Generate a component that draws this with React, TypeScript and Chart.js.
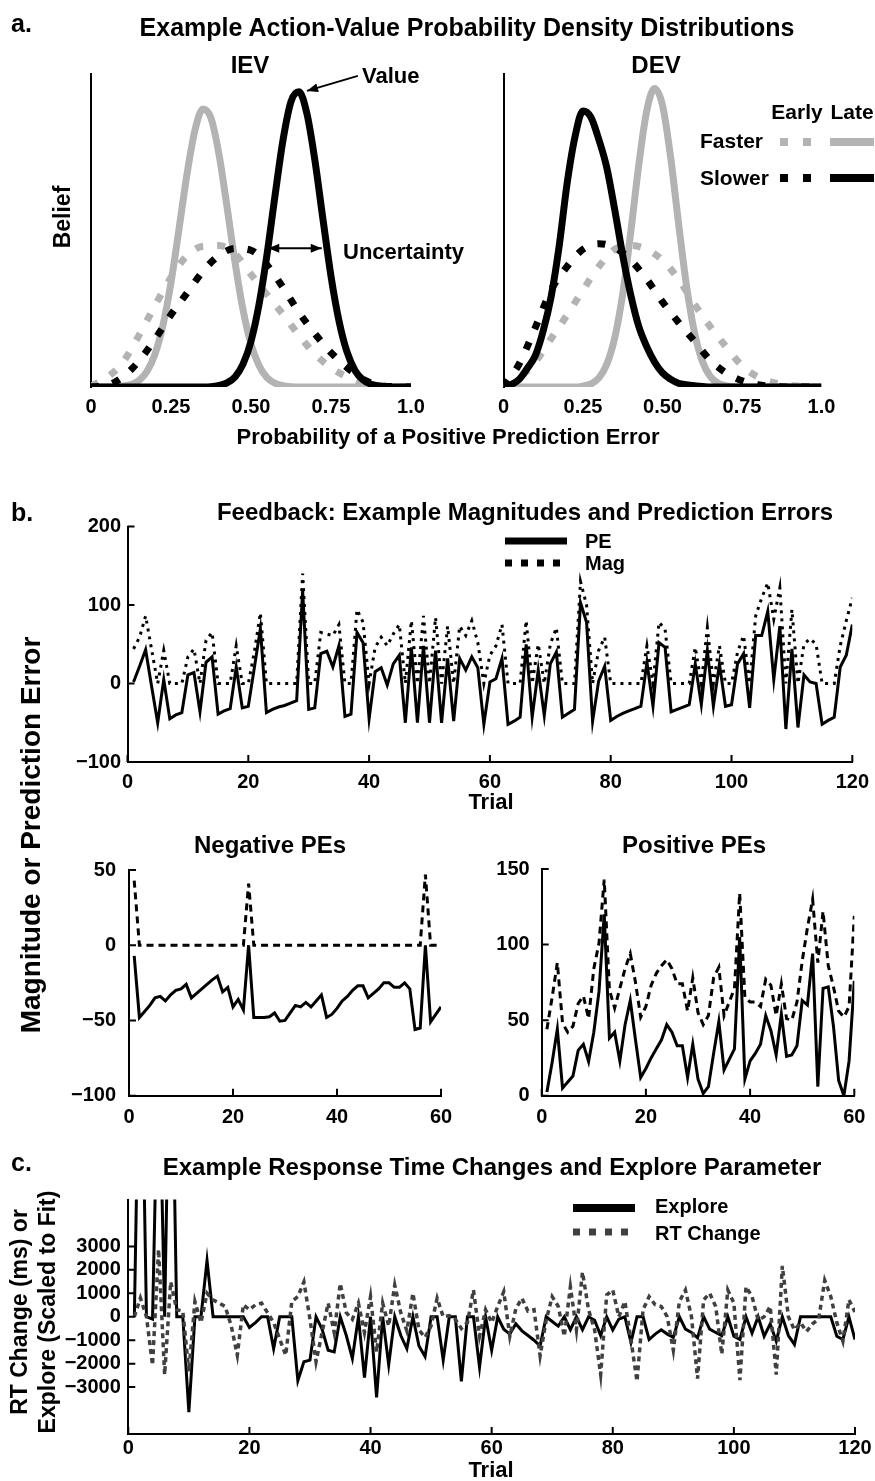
import React, { useEffect, useRef } from "react";
import { Chart, registerables } from "chart.js";
Chart.register(...registerables);

const FONT = "'Liberation Sans', Arial, Helvetica, sans-serif";
const BLACK = "#000000";
const GRAY = "#b3b3b3";
const DGRAY = "#404040";

// ---------- Panel a: belief distributions ----------
const GRID_FINE = Array.from({ length: 41 }, (_, i) => i * 0.025);
const GRID_COARSE = Array.from({ length: 21 }, (_, i) => i * 0.05);

const IEV_FASTER_LATE = [0, 0, 0, 0, 0.003, 0.008, 0.021, 0.05, 0.105, 0.198, 0.334, 0.504, 0.68, 0.821, 0.888, 0.859, 0.743, 0.576, 0.399, 0.247, 0.137, 0.069, 0.03, 0.012, 0.004, 0.001, 0, 0, 0, 0, 0, 0, 0, 0, 0, 0, 0, 0, 0, 0, 0];
const IEV_SLOWER_LATE = [0, 0, 0, 0, 0, 0, 0, 0, 0, 0, 0, 0, 0, 0, 0, 0.001, 0.005, 0.013, 0.032, 0.073, 0.146, 0.263, 0.423, 0.611, 0.789, 0.912, 0.943, 0.872, 0.722, 0.535, 0.354, 0.211, 0.112, 0.053, 0.023, 0.009, 0.003, 0.001, 0, 0, 0];
const IEV_FASTER_EARLY = [0.003, 0.03, 0.08, 0.165, 0.26, 0.35, 0.42, 0.45, 0.452, 0.425, 0.36, 0.295, 0.232, 0.165, 0.105, 0.062, 0.032, 0.013, 0.004, 0.001, 0];
const IEV_SLOWER_EARLY = [0, 0.005, 0.033, 0.083, 0.153, 0.231, 0.3, 0.37, 0.42, 0.443, 0.437, 0.39, 0.318, 0.238, 0.17, 0.11, 0.062, 0.025, 0.005, 0.001, 0];

const DEV_FASTER_LATE = [0, 0, 0, 0, 0, 0, 0, 0, 0, 0, 0.003, 0.01, 0.029, 0.073, 0.158, 0.299, 0.493, 0.706, 0.88, 0.954, 0.9, 0.738, 0.527, 0.327, 0.177, 0.083, 0.034, 0.012, 0.004, 0.001, 0, 0, 0, 0, 0, 0, 0, 0, 0, 0, 0];
const DEV_SLOWER_LATE = [0.003, 0.008, 0.025, 0.06, 0.1, 0.18, 0.29, 0.45, 0.65, 0.8, 0.882, 0.862, 0.79, 0.7, 0.565, 0.42, 0.295, 0.195, 0.13, 0.08, 0.045, 0.025, 0.012, 0.007, 0.004, 0.002, 0, 0, 0, 0, 0, 0, 0, 0, 0, 0, 0, 0, 0, 0, 0];
const DEV_FASTER_EARLY = [0, 0.03, 0.08, 0.155, 0.23, 0.31, 0.385, 0.44, 0.452, 0.44, 0.405, 0.345, 0.265, 0.193, 0.128, 0.068, 0.032, 0.014, 0.005, 0.001, 0];
const DEV_SLOWER_EARLY = [0, 0.075, 0.19, 0.31, 0.385, 0.44, 0.458, 0.445, 0.405, 0.345, 0.272, 0.207, 0.147, 0.086, 0.045, 0.02, 0.007, 0.002, 0, 0, 0];

const A_TICK_LABELS: Record<string, string> = { "0.00": "0", "0.25": "0.25", "0.50": "0.50", "0.75": "0.75", "1.00": "1.0" };

// ---------- Panel b: feedback ----------
const TRIALS_120 = Array.from({ length: 120 }, (_, i) => i + 1);
const TRIALS_60 = Array.from({ length: 60 }, (_, i) => i + 1);

const FEEDBACK_PE = [
  2, 22, 43, -4, -50, 5, -45, -40, -37, 11,
  14, -36, 27, 34, -39, -35, -32, 21, -31, -29,
  20, 70, -37, -33, -30, -28, -25, -22, 118, -33,
  -31, 38, 41, 21, 48, -42, -39, 65, 52, -45,
  15, 20, -2, 25, 36, -50, 46, -50, 48, -50,
  42, -50, 32, -48, 32, 17, 34, 20, -52, 2,
  6, 32, -52, -48, -43, 50, -43, 17, -41, 25,
  40, -43, -38, -33, 103, 78, -48, 3, 22, -47,
  -42, -38, -35, -32, -29, 27, -29, 52, 46, -36,
  -33, -30, -27, 25, -27, 42, -29, 25, -29, -27,
  25, 38, -31, 61, 61, 92, 5, 73, -58, 44,
  -56, 11, 2, 0, -52, -47, -43, 21, 36, 75,
];
const FEEDBACK_MAG = [
  44, 59, 86, 43, 0, 42, 0, 0, 0, 34,
  44, 0, 55, 65, 0, 0, 0, 48, 0, 0,
  40, 90, 0, 0, 0, 0, 0, 0, 140, 0,
  0, 65, 63, 61, 75, 0, 0, 94, 78, 0,
  46, 59, 48, 63, 75, 0, 80, 0, 86, 0,
  84, 0, 73, 0, 73, 61, 80, 52, 0, 36,
  48, 75, 0, 0, 0, 80, 0, 50, 0, 50,
  71, 0, 0, 0, 130, 100, 0, 42, 59, 0,
  0, 0, 0, 0, 0, 48, 0, 78, 69, 0,
  0, 0, 0, 46, 0, 71, 0, 48, 0, 0,
  40, 61, 0, 86, 109, 128, 82, 122, 0, 94,
  0, 50, 57, 50, 0, 0, 0, 48, 80, 109,
];

const NEG_PE = [
  -7, -48, -44, -40, -35, -34, -37, -33, -30, -29,
  -26, -35, -32, -29, -26, -23, -20.5, -31, -28, -41,
  -36, -43, 0, -48, -48, -48, -47.5, -45, -50.5, -50,
  -45, -40, -41, -38, -41, -37, -33, -48, -46, -42,
  -37, -34, -30, -27, -27, -35, -32, -29, -25, -25,
  -28, -28, -25, -29, -56, -55, 0, -51, -46, -41,
];
const NEG_MAG = [
  43, 0, 0, 0, 0, 0, 0, 0, 0, 0,
  0, 0, 0, 0, 0, 0, 0, 0, 0, 0,
  0, 0, 41, 0, 0, 0, 0, 0, 0, 0,
  0, 0, 0, 0, 0, 0, 0, 0, 0, 0,
  0, 0, 0, 0, 0, 0, 0, 0, 0, 0,
  0, 0, 0, 0, 0, 0, 47, 0, 0, 0,
];
const POS_PE = [
  2.5, 22, 44, 5, 9, 13, 30, 34, 22.6, 42,
  69, 120, 38, 42, 23, 47, 63, 37, 12, 18,
  25, 31, 37, 47, 42, 33, 33, 12, 34, 11,
  1.5, 6, 28, 49, 17, 24, 31, 105, 11, 23,
  28, 34, 53, 43, 27, 54, 26, 27, 33, 63,
  60, 94, 6, 71, 72, 46, 10, 0, 23, 76,
];
const POS_MAG = [
  44, 65, 88, 48, 42, 46, 61, 66, 51, 84,
  101, 143, 70, 58, 71, 84, 94, 75, 52, 59,
  73, 81, 86, 90, 84, 74, 74, 56, 78, 55,
  47, 53, 78, 85, 53, 62, 71, 134, 65, 62,
  62, 59, 77, 73, 53, 74, 51, 50, 62, 89,
  111, 130, 88, 122, 86, 72, 56, 52, 59, 119,
];

// ---------- Panel c: RT change and explore ----------
const EXPLORE = [
  0, 15000, 0, -100, 12000, 0, 15000, 0, 0, -4070,
  0, 0, 2400, 0, 0, 0, 0, 0, 0, -460,
  -250, 0, 0, -1360, 0, 0, 0, -2720, -1920, -1850,
  0, -530, -1430, -1500, 0, -800, -1780, 0, -2600, 0,
  -3440, 0, -2050, 0, -800, -1360, 0, -1250, -1700, 0,
  0, -1850, 0, 0, -2750, 0, 0, -2150, 0, -1430,
  0, -530, -740, -300, -600, -800, -1000, -1250, 0, -200,
  -400, 0, -550, 0, -550, 0, -150, -800, 0, -560,
  -100, 0, -1100, 0, 0, -970, -740, -560, -740, -880,
  0, -530, -670, -900, 0, -530, -670, -800, 0, -830,
  -970, 0, -700, 0, -830, -300, -1040, 0, -800, -1180,
  0, 0, 0, 0, 0, 0, -830, -970, 0, -970,
];
const RT_CHANGE = [
  0, 800, 0, -2060, 2875, -2470, 1490, 300, 240, -2330,
  650, -250, 1000, 720, 580, 440, -390, -1640, 510, 300,
  510, 580, 170, -250, -950, -1640, 650, 860, 1490, -110,
  -1920, -670, 580, -670, 1420, 170, -110, 580, -670, 860,
  -1500, 580, -390, 1350, 170, -600, 1000, -560, -880, -390,
  790, 0, 50, -110, -500, -250, 1140, -830, 300, -250,
  440, 1070, -830, 350, 790, 240, 300, -1670, -150, 860,
  440, -830, 1280, -560, 1900, 300, -560, -2470, 930, 1140,
  0, 650, -970, -2750, 300, 860, 510, 440, 0, -1430,
  650, 1140, 0, -2640, 720, 1000, 440, -1600, 1140, 580,
  -2700, 1280, 860, -140, 0, 440, -2470, 2170, 0, -560,
  -250, -630, -300, -100, 1550, 860, -250, -1040, 720, 200,
];

// ---------- helpers ----------
const tickFont = { family: FONT, size: 20, weight: "bold" as const };
const fmtNum = (v: number) => (v < 0 ? "\u2212" + Math.abs(v) : String(v));

function ds(xs: number[], ys: number[], color: string, width: number, dash: number[] = [], smooth = false) {
  return {
    data: xs.map((x, i) => ({ x, y: ys[i] })),
    borderColor: color,
    backgroundColor: color,
    borderWidth: width,
    borderDash: dash,
    borderCapStyle: "butt",
    borderJoinStyle: "miter",
    pointRadius: 0,
    pointHoverRadius: 0,
    fill: false,
    tension: smooth ? 0.4 : 0,
    cubicInterpolationMode: smooth ? "monotone" : "default",
  };
}

function axis(min: number, max: number, step: number, pad: number, fmt: (v: number) => string = fmtNum, extra: any = {}) {
  return {
    type: "linear",
    min,
    max,
    ticks: {
      stepSize: step,
      autoSkip: false,
      maxRotation: 0,
      minRotation: 0,
      padding: pad,
      font: tickFont,
      color: "#000",
      callback: (v: any) => fmt(Number(v)),
      ...(extra.ticks || {}),
    },
    grid: { display: false, drawTicks: false },
    border: { display: true, color: "#000", width: 2, ...(extra.border || {}) },
  };
}

function baseOptions(x: any, y: any, inTick = 7) {
  return {
    responsive: false,
    animation: false,
    events: [],
    plugins: {
      legend: { display: false },
      tooltip: { enabled: false },
      title: { display: false },
      inTicks: { len: inTick },
    },
    scales: { x, y },
  };
}

const inTicksPlugin = {
  id: "inTicks",
  afterDraw(chart: any, _a: any, opts: any) {
    if (!opts || !opts.len) return;
    const { ctx, chartArea: a, scales } = chart;
    ctx.save();
    ctx.strokeStyle = "#000";
    ctx.lineWidth = 2;
    ctx.beginPath();
    for (const t of scales.x.ticks) {
      if (t.label === "" || t.label == null) continue;
      const p = scales.x.getPixelForValue(t.value);
      ctx.moveTo(p, a.bottom);
      ctx.lineTo(p, a.bottom - opts.len);
    }
    for (const t of scales.y.ticks) {
      if (t.label === "" || t.label == null) continue;
      const p = scales.y.getPixelForValue(t.value);
      ctx.moveTo(a.left, p);
      ctx.lineTo(a.left + opts.len, p);
    }
    ctx.stroke();
    ctx.restore();
  },
};

function arrowHead(ctx: any, fx: number, fy: number, tx: number, ty: number) {
  const ang = Math.atan2(ty - fy, tx - fx);
  const L = 11, W = 4.5;
  ctx.beginPath();
  ctx.moveTo(tx, ty);
  ctx.lineTo(tx - L * Math.cos(ang) + W * Math.sin(ang), ty - L * Math.sin(ang) - W * Math.cos(ang));
  ctx.lineTo(tx - L * Math.cos(ang) - W * Math.sin(ang), ty - L * Math.sin(ang) + W * Math.cos(ang));
  ctx.closePath();
  ctx.fill();
}

const ievArrows = {
  id: "ievArrows",
  afterDatasetsDraw(chart: any) {
    const { ctx, scales } = chart;
    const P = (vx: number, vy: number) => [scales.x.getPixelForValue(vx), scales.y.getPixelForValue(vy)];
    ctx.save();
    ctx.strokeStyle = "#000";
    ctx.fillStyle = "#000";
    ctx.lineWidth = 2;
    const [ax, ay] = P(0.834, 0.994);
    const [bx, by] = P(0.675, 0.946);
    ctx.beginPath();
    ctx.moveTo(ax, ay);
    ctx.lineTo(bx, by);
    ctx.stroke();
    arrowHead(ctx, ax, ay, bx, by);
    const [cx, cy] = P(0.554, 0.443);
    const [dx, dy] = P(0.721, 0.443);
    ctx.beginPath();
    ctx.moveTo(cx, cy);
    ctx.lineTo(dx, dy);
    ctx.stroke();
    arrowHead(ctx, cx, cy, dx, dy);
    arrowHead(ctx, dx, dy, cx, cy);
    ctx.restore();
  },
};

type Box = { l: number; t: number; r: number; b: number };

function PlotCanvas({ box, make, yW = 80, xH = 44, padR = 22, padT = 14 }: { box: Box; make: () => any; yW?: number; xH?: number; padR?: number; padT?: number }) {
  const ref = useRef<HTMLCanvasElement | null>(null);
  const cl = Math.floor(box.l - yW);
  const ct = Math.floor(box.t - padT);
  const cw = Math.ceil(box.r + padR) - cl;
  const ch = Math.ceil(box.b + xH) - ct;
  useEffect(() => {
    const cfg = make();
    const yWidth = box.l - cl;
    const xHeight = ct + ch - box.b;
    cfg.options.layout = { padding: { left: 0, top: box.t - ct, right: cl + cw - box.r, bottom: 0 } };
    cfg.options.scales.x.afterFit = (s: any) => { s.height = xHeight; };
    cfg.options.scales.y.afterFit = (s: any) => { s.width = yWidth; };
    cfg.plugins = [...(cfg.plugins || []), inTicksPlugin];
    const chart = new Chart(ref.current as HTMLCanvasElement, cfg);
    return () => chart.destroy();
  }, []);
  return <canvas ref={ref} width={cw} height={ch} style={{ position: "absolute", left: cl, top: ct, width: cw, height: ch }} />;
}

function Txt({ x, y, children, size = 20, align = "center", rotate = false }: any) {
  const tx = align === "center" ? "-50%" : align === "left" ? "0" : "-100%";
  return (
    <div
      style={{
        position: "absolute",
        left: x,
        top: y,
        transform: `translate(${rotate ? "-50%" : tx},-50%)${rotate ? " rotate(-90deg)" : ""}`,
        fontFamily: FONT,
        fontWeight: 700,
        fontSize: size,
        lineHeight: 1,
        whiteSpace: "nowrap",
        color: "#000",
      }}
    >
      {children}
    </div>
  );
}

// ---------- chart configs ----------
const aTick = (v: number) => A_TICK_LABELS[v.toFixed(2)] ?? "";

function beliefChart(sl: number[], se: number[], fl: number[], fe: number[], withArrows: boolean) {
  return () => ({
    type: "line",
    data: {
      datasets: [
        ds(GRID_FINE, sl, BLACK, 7, [], true),
        ds(GRID_COARSE, se, BLACK, 7, [8, 14], true),
        ds(GRID_FINE, fl, GRAY, 7, [], true),
        ds(GRID_COARSE, fe, GRAY, 7, [8, 14], true),
      ],
    },
    options: baseOptions(
      axis(0, 1, 0.25, 8, aTick, { border: { display: false } }),
      axis(0, 1, 0.25, 0, () => "", { ticks: { display: false } }),
      0
    ),
    plugins: withArrows ? [ievArrows] : [],
  });
}

const feedbackChart = () => ({
  type: "line",
  data: {
    datasets: [
      ds(TRIALS_120, FEEDBACK_PE, BLACK, 3),
      ds(TRIALS_120, FEEDBACK_MAG, BLACK, 3, [3, 5]),
    ],
  },
  options: baseOptions(axis(0, 120, 20, 8), axis(-100, 200, 100, 6.5)),
});

const negChart = () => ({
  type: "line",
  data: {
    datasets: [
      ds(TRIALS_60, NEG_PE, BLACK, 3),
      ds(TRIALS_60, NEG_MAG, BLACK, 3, [7, 5]),
    ],
  },
  options: baseOptions(axis(0, 60, 20, 10), axis(-100, 50, 50, 13)),
});

const posChart = () => ({
  type: "line",
  data: {
    datasets: [
      ds(TRIALS_60, POS_PE, BLACK, 3),
      ds(TRIALS_60, POS_MAG, BLACK, 3, [7, 5]),
    ],
  },
  options: baseOptions(axis(0, 60, 20, 10), axis(0, 150, 50, 12)),
});

const rtChart = () => ({
  type: "line",
  data: {
    datasets: [
      ds(TRIALS_120, RT_CHANGE, DGRAY, 3.5, [5, 4]),
      ds(TRIALS_120, EXPLORE, BLACK, 3),
    ],
  },
  options: baseOptions(
    axis(0, 120, 20, 2),
    axis(-5000, 5000, 1000, 7.5, (v) => (Math.abs(v) > 3000 ? "" : fmtNum(v)))
  ),
});

export default function App() {
  return (
    <div style={{ position: "absolute", left: 0, top: 0, width: 875, height: 1481, overflow: "hidden", background: "#fff" }}>
      {/* panel a */}
      <PlotCanvas box={{ l: 91, t: 74, r: 411, b: 387 }} make={beliefChart(IEV_SLOWER_LATE, IEV_SLOWER_EARLY, IEV_FASTER_LATE, IEV_FASTER_EARLY, true)} />
      <PlotCanvas box={{ l: 503.5, t: 74, r: 821.5, b: 387 }} make={beliefChart(DEV_SLOWER_LATE, DEV_SLOWER_EARLY, DEV_FASTER_LATE, DEV_FASTER_EARLY, false)} />
      {/* panel b */}
      <PlotCanvas box={{ l: 127.5, t: 522, r: 855, b: 762 }} make={feedbackChart} />
      <PlotCanvas box={{ l: 129, t: 859.3, r: 441, b: 1095.7 }} make={negChart} />
      <PlotCanvas box={{ l: 541.7, t: 859.3, r: 854.3, b: 1095.7 }} make={posChart} />
      {/* panel c */}
      <PlotCanvas box={{ l: 128.3, t: 1194, r: 855, b: 1434 }} make={rtChart} />

      <svg width={875} height={1481} style={{ position: "absolute", left: 0, top: 0, pointerEvents: "none" }}>
        <line x1={780} y1={142} x2={813} y2={142} stroke={GRAY} strokeWidth={8} strokeDasharray="8 15" />
        <line x1={830} y1={142} x2={874} y2={142} stroke={GRAY} strokeWidth={8} />
        <line x1={780} y1={178} x2={813} y2={178} stroke={BLACK} strokeWidth={8} strokeDasharray="8 15" />
        <line x1={830} y1={178} x2={874} y2={178} stroke={BLACK} strokeWidth={8} />
        <line x1={505} y1={541} x2={567} y2={541} stroke={BLACK} strokeWidth={7} />
        <line x1={505} y1={563} x2={567} y2={563} stroke={BLACK} strokeWidth={7} strokeDasharray="7 9" />
        <line x1={573} y1={1208} x2={635} y2={1208} stroke={BLACK} strokeWidth={8} />
        <line x1={573} y1={1232} x2={628} y2={1232} stroke={DGRAY} strokeWidth={7} strokeDasharray="7 9" />
      </svg>

      <Txt x={11} y={23} size={25} align="left">a.</Txt>
      <Txt x={467} y={27} size={25}>Example Action-Value Probability Density Distributions</Txt>
      <Txt x={250} y={65} size={24}>IEV</Txt>
      <Txt x={656} y={65} size={24}>DEV</Txt>
      <Txt x={62} y={217} size={23} rotate>Belief</Txt>
      <Txt x={448} y={437} size={22}>Probability of a Positive Prediction Error</Txt>
      <Txt x={362} y={76} size={22} align="left">Value</Txt>
      <Txt x={343} y={252} size={22} align="left">Uncertainty</Txt>
      <Txt x={797} y={111} size={21}>Early</Txt>
      <Txt x={852} y={111} size={21}>Late</Txt>
      <Txt x={700} y={140} size={21} align="left">Faster</Txt>
      <Txt x={700} y={177} size={21} align="left">Slower</Txt>

      <Txt x={11} y={512} size={25} align="left">b.</Txt>
      <Txt x={525} y={512} size={24}>Feedback: Example Magnitudes and Prediction Errors</Txt>
      <Txt x={585} y={541} size={20} align="left">PE</Txt>
      <Txt x={585} y={563} size={20} align="left">Mag</Txt>
      <Txt x={491} y={802} size={22}>Trial</Txt>
      <Txt x={31} y={835} size={28} rotate>Magnitude or Prediction Error</Txt>
      <Txt x={270} y={845} size={24}>Negative PEs</Txt>
      <Txt x={694} y={845} size={24}>Positive PEs</Txt>

      <Txt x={11} y={1162} size={25} align="left">c.</Txt>
      <Txt x={492} y={1167} size={24}>Example Response Time Changes and Explore Parameter</Txt>
      <Txt x={19} y={1312} size={23} rotate>RT Change (ms) or</Txt>
      <Txt x={47} y={1312} size={23} rotate>Explore (Scaled to Fit)</Txt>
      <Txt x={655} y={1206} size={20} align="left">Explore</Txt>
      <Txt x={655} y={1233} size={20} align="left">RT Change</Txt>
      <Txt x={491} y={1470} size={22}>Trial</Txt>
    </div>
  );
}
